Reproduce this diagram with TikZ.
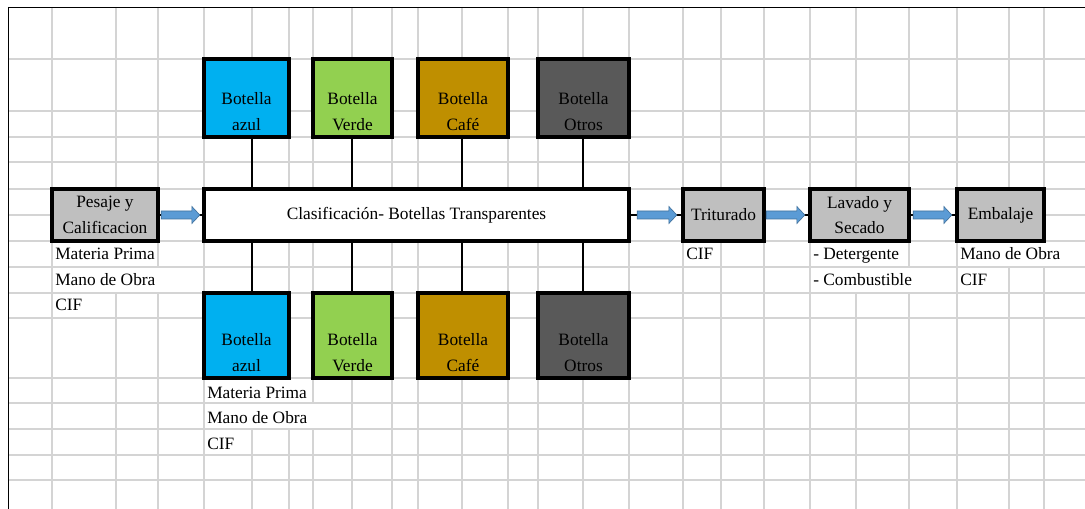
\documentclass[tikz,border=0pt]{standalone}
\usepackage{fontspec}
\setmainfont{Liberation Serif}
\usetikzlibrary{calc}
\definecolor{azulc}{HTML}{00B0F0}
\definecolor{verdec}{HTML}{92D050}
\definecolor{cafec}{HTML}{BF8F00}
\definecolor{otrosc}{HTML}{595959}
\definecolor{grisc}{HTML}{BFBFBF}
\definecolor{gridc}{HTML}{D4D4D4}
\definecolor{arrowf}{HTML}{5B9BD5}
\definecolor{arrowd}{HTML}{41719C}
\newcommand\dfont{\fontsize{13pt}{19pt}\selectfont}
\tikzset{
  gridline/.style={draw=gridc, line width=0.85pt},
  boxnode/.style={draw=black, line width=2.5pt, inner sep=0pt, align=center, font=\dfont},
  conn/.style={draw=black, line width=0.8pt},
  flow/.style={draw=black, line width=1.3pt},
  blockarrow/.style={fill=arrowf, draw=arrowd, line width=0.5pt},
  celltext/.style={anchor=base west, inner sep=0pt, font=\dfont},
  btext/.style={inner sep=0pt, align=center, font=\dfont},
}
% name, x1, y1, x2, y2, colour, text
\newcommand\mkbox[7]{\node[boxnode, fill=#6, minimum width={(#4-#2)*0.75pt}, minimum height={(#5-#3)*0.75pt}] (#1) at ({(#2+#4)/2},{(#3+#5)/2}) {#7};}
% from node, to node, start gap, tip gap
\newcommand\barrow[4]{%
  \coordinate (ba) at ($(#1.east)+(#3,0)$);
  \coordinate (bb) at ($(#2.west)+(-#4,0)$);
  \path[blockarrow] ($(ba)+(0,-4)$) -- ($(bb)+(-8,-4)$) -- ($(bb)+(-8,-8.5)$) -- (bb)
    -- ($(bb)+(-8,8.5)$) -- ($(bb)+(-8,4)$) -- ($(ba)+(0,4)$) -- cycle;}
\begin{document}
\begin{tikzpicture}[x=0.75pt, y=-0.75pt]
\useasboundingbox (0,0) rectangle (1085,509);
\fill[white] (0,0) rectangle (1085,509);
% spreadsheet grid
\foreach \gx in {52,116,158,204,252,289,313,352,392,418,462,508,538,583,629,683,721,764,810,856,909,957,1009,1044}
  \draw[gridline] (\gx,7) -- (\gx,509);
\foreach \gy in {59,111,137,162,189,215,241,267,293,318,378,403,429,455,480}
  \draw[gridline] (8,\gy) -- (1085,\gy);
% gridlines hidden by overflowing cell text
\foreach \mx/\ta/\tb in {116/241/267, 116/267/293, 158/267/293, 856/241/267, 856/267/293, 909/267/293, 1009/241/267, 1044/241/267, 252/378/403, 289/378/403, 252/403/429, 289/403/429, 313/403/429}
  \fill[white] (\mx-1.5,\ta+0.8) rectangle (\mx+1.5,\tb-0.8);
% sheet border
\draw[line width=1.4pt] (8.5,7) -- (8.5,509);
\draw[line width=1.4pt] (8,7.5) -- (1085,7.5);

% boxes
\mkbox{az1}{204}{59}{289}{137}{azulc}{}
\mkbox{ve1}{313}{59}{392}{137}{verdec}{}
\mkbox{ca1}{418}{59}{508}{137}{cafec}{}
\mkbox{ot1}{538}{59}{629}{137}{otrosc}{}
\mkbox{az2}{204}{293}{289}{378}{azulc}{}
\mkbox{ve2}{313}{293}{392}{378}{verdec}{}
\mkbox{ca2}{418}{293}{508}{378}{cafec}{}
\mkbox{ot2}{538}{293}{629}{378}{otrosc}{}
\mkbox{pes}{52}{189}{158}{241}{grisc}{Pesaje y\\Calificacion}
\mkbox{clas}{204}{189}{629}{241}{white}{Clasificación- Botellas Transparentes}
\mkbox{tri}{683}{189}{764}{241}{grisc}{Triturado}
\mkbox{lav}{810}{189}{909}{241}{grisc}{Lavado y\\Secado}
\mkbox{emb}{957}{189}{1044}{241}{grisc}{Embalaje}

% bottle labels
\node[btext] (az1t) at ($(az1.south)+(0,-27)$) {Botella\\azul};
\node[btext] (ve1t) at ($(ve1.south)+(0,-27)$) {Botella\\Verde};
\node[btext] (ca1t) at ($(ca1.south)+(0,-27)$) {Botella\\Café};
\node[btext] (ot1t) at ($(ot1.south)+(0,-27)$) {Botella\\Otros};
\node[btext] (az2t) at ($(az2.south)+(0,-27)$) {Botella\\azul};
\node[btext] (ve2t) at ($(ve2.south)+(0,-27)$) {Botella\\Verde};
\node[btext] (ca2t) at ($(ca2.south)+(0,-27)$) {Botella\\Café};
\node[btext] (ot2t) at ($(ot2.south)+(0,-27)$) {Botella\\Otros};

% vertical connectors
\coordinate (c1) at (252,0);
\coordinate (c2) at (352,0);
\coordinate (c3) at (462,0);
\coordinate (c4) at (583,0);
\draw[conn] (az1.south -| c1) -- (clas.north -| c1);
\draw[conn] (ve1.south -| c2) -- (clas.north -| c2);
\draw[conn] (ca1.south -| c3) -- (clas.north -| c3);
\draw[conn] (ot1.south -| c4) -- (clas.north -| c4);
\draw[conn] (clas.south -| c1) -- (az2.north -| c1);
\draw[conn] (clas.south -| c2) -- (ve2.north -| c2);
\draw[conn] (clas.south -| c3) -- (ca2.north -| c3);
\draw[conn] (clas.south -| c4) -- (ot2.north -| c4);

% process flow
\draw[flow] (pes.east) -- (clas.west);
\draw[flow] (clas.east) -- (tri.west);
\draw[flow] (tri.east) -- (lav.west);
\draw[flow] (lav.east) -- (emb.west);
\barrow{pes}{clas}{1.5}{2.5}
\barrow{clas}{tri}{6.5}{4.5}
\barrow{tri}{lav}{0.5}{3.5}
\barrow{lav}{emb}{2.5}{3.5}

% cell texts
\node[celltext] (t1) at (55,260) {Materia Prima};
\node[celltext] (t2) at (55,286) {Mano de Obra};
\node[celltext] (t3) at (55,311) {CIF};
\node[celltext] (t4) at (686,260) {CIF};
\node[celltext] (t5) at (813,260) {- Detergente};
\node[celltext] (t6) at (813,286) {- Combustible};
\node[celltext] (t7) at (960,260) {Mano de Obra};
\node[celltext] (t8) at (960,286) {CIF};
\node[celltext] (t9) at (207,398) {Materia Prima};
\node[celltext] (t10) at (207,423.5) {Mano de Obra};
\node[celltext] (t11) at (207,449) {CIF};
\end{tikzpicture}
\end{document}
